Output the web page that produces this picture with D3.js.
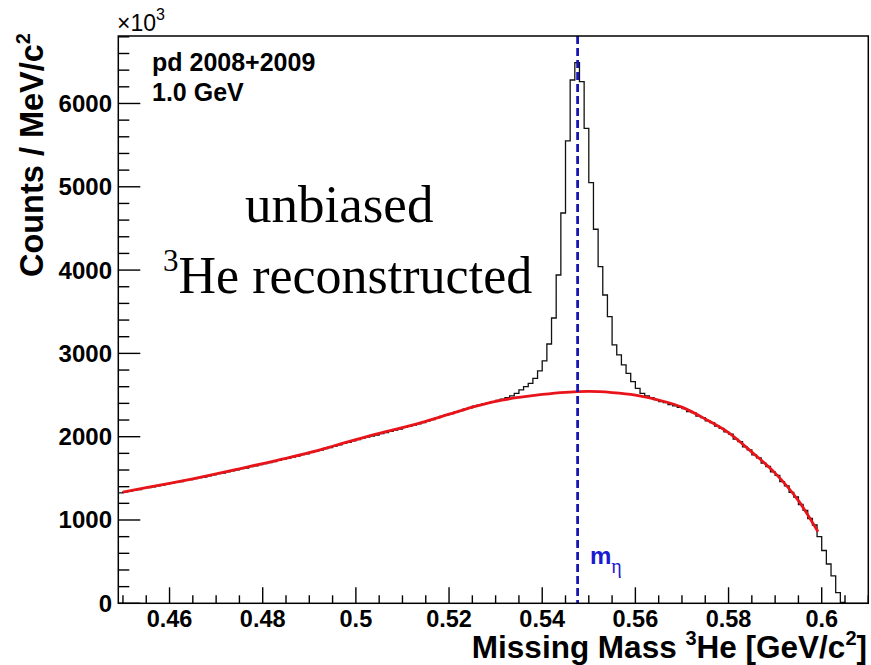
<!DOCTYPE html>
<html>
<head>
<meta charset="utf-8">
<script src="https://cdn.jsdelivr.net/npm/d3@7"></script>
<style>
  html, body { margin: 0; padding: 0; background: #fff; }
  svg { display: block; }
</style>
</head>
<body>
<div id="chart"></div>
<script>
// ---------------- data ----------------
// histogram: 1 MeV bins, first bin lower edge at 0.449 GeV
const binStart = 0.449;
const binWidth = 0.001;
const counts = [
  1326,1338,1346,1358,1366,1380,1390,1398,1411,1418,
  1433,1442,1452,1461,1475,1485,1496,1508,1516,1531,
  1542,1556,1562,1578,1590,1602,1616,1624,1640,1650,
  1666,1677,1690,1700,1716,1728,1740,1756,1766,1784,
  1795,1812,1826,1840,1858,1870,1888,1902,1920,1933,
  1950,1966,1984,1994,2008,2020,2036,2048,2064,2078,
  2090,2112,2124,2140,2154,2170,2190,2206,2226,2244,
  2262,2278,2296,2312,2330,2346,2366,2378,2394,2406,
  2420,2436,2452,2470,2490,2521,2561,2600,2641,2701,
  2789,2909,3113,3425,3941,4685,5550,6282,6490,6262,
  5702,5049,4490,4041,3701,3441,3101,2981,2861,2761,
  2660,2581,2521,2490,2468,2446,2420,2408,2384,2370,
  2352,2338,2300,2288,2246,2230,2190,2170,2126,2100,
  2058,2030,1972,1940,1878,1842,1782,1746,1682,1642,
  1578,1536,1460,1410,1332,1276,1186,1116,1018,940,
  800,634,472,330,128,10,0,0,0,0,
  0
];
// background fit (red curve), read at points
const fitX = [0.450,0.455,0.460,0.465,0.470,0.475,0.480,0.485,0.490,0.495,
              0.500,0.505,0.510,0.515,0.520,0.525,0.530,0.535,0.540,0.545,
              0.550,0.555,0.560,0.565,0.570,0.575,0.580,0.585,0.590,0.595,0.5992];
const fitY = [1334,1388,1440,1495,1553,1615,1678,1740,1808,1885,
              1965,2040,2108,2185,2270,2355,2425,2472,2508,2533,
              2543,2530,2500,2440,2355,2213,2049,1815,1563,1232,860];
const etaLine = 0.5476;
const xDomain = [0.449, 0.610];
const yDomain = [0, 6810];
const xMajor = [0.46,0.48,0.50,0.52,0.54,0.56,0.58,0.60];
const xMajorLabels = ["0.46","0.48","0.5","0.52","0.54","0.56","0.58","0.6"];
const yMajor = [0,1000,2000,3000,4000,5000,6000];
const yMajorLabels = ["0","1000","2000","3000","4000","5000","6000"];
const xMinorStep = 0.005;
const yMinorStep = 200;

// ---------------- drawing ----------------
const W = 871, H = 665;
const frame = {left: 118.3, right: 868.3, top: 36, bottom: 603.3};
const sans = "'Liberation Sans', Arial, Helvetica, sans-serif";
const serif = "'Liberation Serif', 'Times New Roman', serif";

const svg = d3.select("#chart").append("svg")
  .attr("width", W).attr("height", H)
  .style("background", "#fff");

const x = d3.scaleLinear().domain(xDomain).range([frame.left, frame.right]);
const y = d3.scaleLinear().domain(yDomain).range([frame.bottom, frame.top]);

svg.append("defs").append("clipPath").attr("id", "clip")
  .append("rect")
  .attr("x", frame.left).attr("y", frame.top)
  .attr("width", frame.right - frame.left).attr("height", frame.bottom - frame.top);

const plot = svg.append("g").attr("clip-path", "url(#clip)");

// histogram (step outline)
const histPts = counts.map((c, i) => [binStart + i * binWidth, c]);
histPts.push([binStart + counts.length * binWidth, counts[counts.length - 1]]);
const stepLine = d3.line().x(d => x(d[0])).y(d => y(d[1])).curve(d3.curveStepAfter);
plot.append("path")
  .attr("d", stepLine(histPts))
  .attr("fill", "none")
  .attr("stroke", "#111")
  .attr("stroke-width", 1.3);

// fit curve
const fitPts = fitX.map((v, i) => [v, fitY[i]]);
const fitLine = d3.line().x(d => x(d[0])).y(d => y(d[1])).curve(d3.curveMonotoneX);
plot.append("path")
  .attr("d", fitLine(fitPts))
  .attr("fill", "none")
  .attr("stroke", "#e8141a")
  .attr("stroke-width", 2.8);

// eta mass dashed line
plot.append("line")
  .attr("x1", x(etaLine)).attr("x2", x(etaLine))
  .attr("y1", frame.top).attr("y2", frame.bottom)
  .attr("stroke", "#1616b8")
  .attr("stroke-width", 2.8)
  .attr("stroke-dasharray", "8,4");

// axes: ticks inside
const axisG = svg.append("g").attr("stroke", "#000").attr("stroke-width", 1.4);
const xMinor = d3.range(Math.round(0.45 / xMinorStep), Math.round(0.61 / xMinorStep) + 1)
  .map(k => +(k * xMinorStep).toFixed(3));
xMinor.forEach(v => {
  const isMajor = xMajor.some(m => Math.abs(m - v) < 1e-9);
  axisG.append("line")
    .attr("x1", x(v)).attr("x2", x(v))
    .attr("y1", frame.bottom).attr("y2", frame.bottom - (isMajor ? 16 : 8));
});
const yMinor = d3.range(0, yDomain[1], yMinorStep);
yMinor.forEach(v => {
  const isMajor = yMajor.includes(v);
  axisG.append("line")
    .attr("x1", frame.left).attr("x2", frame.left + (isMajor ? 22 : 11))
    .attr("y1", y(v)).attr("y2", y(v));
});

// frame
svg.append("rect")
  .attr("x", frame.left).attr("y", frame.top)
  .attr("width", frame.right - frame.left).attr("height", frame.bottom - frame.top)
  .attr("fill", "none").attr("stroke", "#000").attr("stroke-width", 1.5);

// tick labels
svg.append("g").selectAll("text").data(xMajor).join("text")
  .attr("x", d => x(d)).attr("y", 627)
  .attr("text-anchor", "middle")
  .attr("font-family", sans).attr("font-weight", "bold").attr("font-size", 23.5)
  .text((d, i) => xMajorLabels[i]);

svg.append("g").selectAll("text").data(yMajor).join("text")
  .attr("x", 112).attr("y", d => y(d) + 8.5)
  .attr("text-anchor", "end")
  .attr("font-family", sans).attr("font-weight", "bold").attr("font-size", 24)
  .text((d, i) => yMajorLabels[i]);

// x10^3
const mult = svg.append("text")
  .attr("x", 117).attr("y", 31)
  .attr("font-family", sans).attr("font-size", 23);
mult.append("tspan").text("\u00d710");
mult.append("tspan").attr("font-size", 16).attr("dy", -11).text("3");

// axis titles
const xt = svg.append("text")
  .attr("x", 867).attr("y", 657.5)
  .attr("text-anchor", "end")
  .attr("font-family", sans).attr("font-weight", "bold").attr("font-size", 31.5);
xt.append("tspan").text("Missing Mass ");
xt.append("tspan").attr("font-size", 20).attr("dy", -13).text("3");
xt.append("tspan").attr("dy", 13).text("He [GeV/c");
xt.append("tspan").attr("font-size", 20).attr("dy", -13).text("2");
xt.append("tspan").attr("dy", 13).text("]");

const yt = svg.append("text")
  .attr("transform", "translate(43,33) rotate(-90)")
  .attr("text-anchor", "end")
  .attr("font-family", sans).attr("font-weight", "bold").attr("font-size", 32.5);
yt.append("tspan").text("Counts / MeV/c");
yt.append("tspan").attr("font-size", 20).attr("dy", -13).text("2");

// annotations
svg.append("text").attr("x", 152).attr("y", 71)
  .attr("font-family", sans).attr("font-weight", "bold").attr("font-size", 25)
  .text("pd 2008+2009");
svg.append("text").attr("x", 152).attr("y", 101)
  .attr("font-family", sans).attr("font-weight", "bold").attr("font-size", 25)
  .text("1.0 GeV");

svg.append("text").attr("x", 245).attr("y", 222)
  .attr("font-family", serif).attr("font-size", 53)
  .text("unbiased");
const he = svg.append("text").attr("x", 163).attr("y", 293)
  .attr("font-family", serif).attr("font-size", 52);
he.append("tspan").attr("font-size", 31).attr("dy", -22).text("3");
he.append("tspan").attr("dy", 22).text("He reconstructed");

const meta = svg.append("text").attr("x", 590).attr("y", 564)
  .attr("fill", "#1a1ad0")
  .attr("font-family", sans).attr("font-weight", "bold").attr("font-size", 24);
meta.append("tspan").text("m");
meta.append("tspan").attr("font-family", serif).attr("font-weight", "normal")
  .attr("font-size", 20).attr("dy", 9).text("\u03b7");
</script>
</body>
</html>
